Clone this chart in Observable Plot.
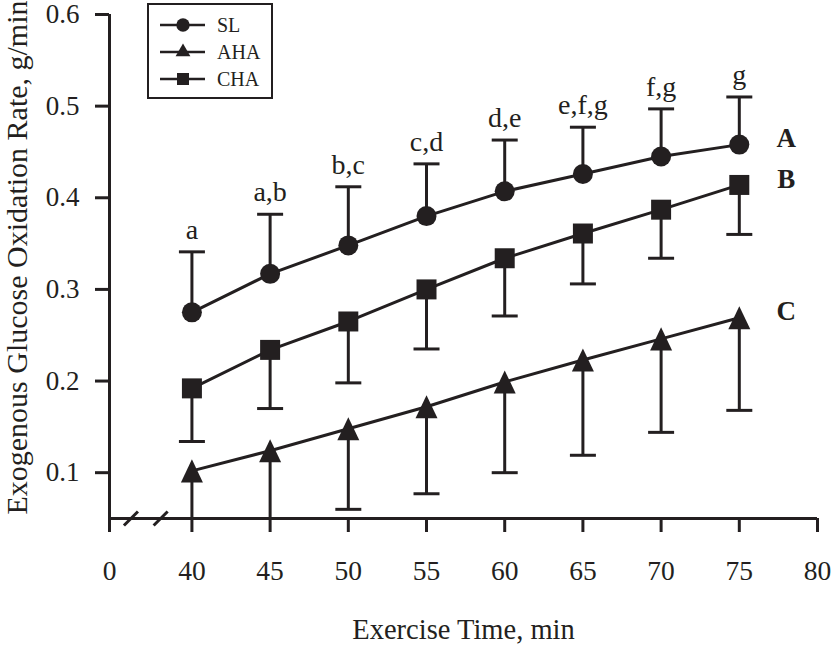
<!DOCTYPE html>
<html><head><meta charset="utf-8">
<script src="https://cdn.jsdelivr.net/npm/d3@7"></script>
<script src="https://cdn.jsdelivr.net/npm/@observablehq/plot@0.6"></script>
<style>
body{margin:0;background:#fff;}
#wrap{position:relative;width:832px;height:647px;font-family:"Liberation Serif","Times New Roman",serif;}
#legend{position:absolute;left:147px;top:3px;}
</style></head><body><div id="wrap"></div>
<script>
const times = [40,45,50,55,60,65,70,75];
const slMean = [0.275,0.317,0.348,0.380,0.407,0.426,0.445,0.458];
const slUpper = [0.341,0.382,0.412,0.437,0.463,0.477,0.497,0.510];
const chaMean = [0.192,0.234,0.265,0.300,0.334,0.361,0.387,0.414];
const chaLower = [0.134,0.170,0.198,0.235,0.271,0.306,0.334,0.360];
const ahaMean = [0.102,0.124,0.148,0.172,0.199,0.223,0.246,0.269];
const ahaLower = [0.010,0.030,0.060,0.077,0.100,0.119,0.144,0.168];
const slLetters = ["a","a,b","b,c","c,d","d,e","e,f,g","f,g","g"];
const seriesNames = ["SL","AHA","CHA"];
const groupLetters = {SL:"A", CHA:"B", AHA:"C"};
const xTickValues = [34.73,40,45,50,55,60,65,70,75,80];
const xTickLabels = ["0","40","45","50","55","60","65","70","75","80"];
const yTickValues = [0.1,0.2,0.3,0.4,0.5,0.6];
const xDomain = [34.73,80];
const yDomain = [0.05,0.6];
const breakMarks = [36.1,38.0];
const xTitle = "Exercise Time, min";
const yTitle = "Exogenous Glucose Oxidation Rate, g/min";

const ink = "#231f20";
const font = '"Liberation Serif","Times New Roman",serif';

const capSymbol = {draw(ctx,size){const h=Math.sqrt(size/Math.PI); ctx.moveTo(-h,0); ctx.lineTo(h,0);}};
const slashSymbol = {draw(ctx,size){const h=Math.sqrt(size/Math.PI); ctx.moveTo(-h,h); ctx.lineTo(h,-h);}};
const triSymbol = {draw(ctx,size){const h=Math.sqrt(size/Math.PI); ctx.moveTo(0,-h*1.05); ctx.lineTo(h,h*1.05); ctx.lineTo(-h,h*1.05); ctx.closePath();}};

const sl = times.map((t,i)=>({t, v:slMean[i], e:slUpper[i], lab:slLetters[i]}));
const cha = times.map((t,i)=>({t, v:chaMean[i], e:chaLower[i]}));
const aha = times.map((t,i)=>({t, v:ahaMean[i], e:ahaLower[i]}));
const ends = [
  {t:times[7], v:slMean[7], g:groupLetters.SL},
  {t:times[7], v:chaMean[7], g:groupLetters.CHA},
  {t:times[7], v:ahaMean[7], g:groupLetters.AHA}
];

const chart = Plot.plot({
  width: 832, height: 647,
  marginLeft: 109, marginRight: 15, marginTop: 14, marginBottom: 129,
  style: {fontFamily: font, fontSize: "27px", color: ink, background: "white", overflow: "visible"},
  x: {type: "linear", domain: xDomain, label: null},
  y: {type: "linear", domain: yDomain, label: null},
  marks: [
    Plot.axisX({ticks: xTickValues, tickFormat: (d)=>xTickLabels[xTickValues.indexOf(d)], tickSize: 14, tickPadding: 28, strokeWidth: 3, stroke: ink, fill: ink, fontSize: 27.5, label: null}),
    Plot.axisY({ticks: yTickValues, tickFormat: d3.format(".1f"), tickSize: 14, tickPadding: 16, strokeWidth: 3, stroke: ink, fill: ink, fontSize: 27, label: null}),
    Plot.ruleY([yDomain[0]], {stroke: ink, strokeWidth: 3}),
    Plot.ruleX([xDomain[0]], {stroke: ink, strokeWidth: 3}),
    Plot.dot(breakMarks, {x: d=>d, y: ()=>yDomain[0], symbol: slashSymbol, r: 7, stroke: ink, fill: "none", strokeWidth: 3}),
    // error bars
    Plot.ruleX(sl, {x:"t", y1:"v", y2:"e", stroke: ink, strokeWidth: 3}),
    Plot.ruleX(cha, {x:"t", y1:"v", y2:"e", stroke: ink, strokeWidth: 3}),
    Plot.ruleX(aha, {x:"t", y1:"v", y2:"e", stroke: ink, strokeWidth: 3, clip: true}),
    Plot.dot(sl, {x:"t", y:"e", symbol: capSymbol, r: 13, stroke: ink, fill: "none", strokeWidth: 3}),
    Plot.dot(cha, {x:"t", y:"e", symbol: capSymbol, r: 13, stroke: ink, fill: "none", strokeWidth: 3}),
    Plot.dot(aha, {x:"t", y:"e", symbol: capSymbol, r: 13, stroke: ink, fill: "none", strokeWidth: 3, clip: true}),
    // lines
    Plot.line(sl, {x:"t", y:"v", stroke: ink, strokeWidth: 3}),
    Plot.line(cha, {x:"t", y:"v", stroke: ink, strokeWidth: 3}),
    Plot.line(aha, {x:"t", y:"v", stroke: ink, strokeWidth: 3}),
    // markers
    Plot.dot(sl, {x:"t", y:"v", symbol: "circle", r: 10, fill: ink, stroke: "none"}),
    Plot.dot(cha, {x:"t", y:"v", symbol: "square", r: 11.28, fill: ink, stroke: "none"}),
    Plot.dot(aha, {x:"t", y:"v", symbol: triSymbol, r: 11, fill: ink, stroke: "none"}),
    // annotations
    Plot.text(sl, {x:"t", y:"e", text:"lab", lineAnchor:"bottom", dy:-13, fontSize: 28, fill: ink}),
    Plot.text(ends, {x:"t", y:"v", text:"g", dx: 47, dy: -6, fontSize: 27, fontWeight: "bold", fill: ink}),
    // axis titles
    Plot.text([yTitle], {text: d=>d, frameAnchor: "left", textAnchor: "middle", lineAnchor: "middle", rotate: -90, dx: -92, dy: -9, fontSize: 30, fill: ink}),
    Plot.text([xTitle], {text: d=>d, frameAnchor: "bottom", lineAnchor: "bottom", dy: 120, fontSize: 28.5, fill: ink})
  ]
});
const wrap = document.getElementById("wrap");
wrap.appendChild(chart);

// legend overlay
const legendSymbols = {SL: d3.symbolCircle, AHA: d3.symbolTriangle, CHA: d3.symbolSquare};
const legendSizes = {SL: 140, AHA: 95, CHA: 144};
const lw = 126, lh = 96;
const lg = d3.create("svg").attr("id","legend").attr("width", lw).attr("height", lh)
  .style("font-family", font);
lg.append("rect").attr("x",1).attr("y",1).attr("width",lw-2).attr("height",lh-2)
  .attr("fill","white").attr("stroke",ink).attr("stroke-width",2);
seriesNames.forEach((name,i)=>{
  const g = lg.append("g").attr("transform",`translate(0,${22+27*i})`);
  g.append("line").attr("x1",13).attr("x2",58).attr("stroke",ink).attr("stroke-width",2.5);
  g.append("path").attr("transform","translate(36,0)")
    .attr("d", d3.symbol(legendSymbols[name], legendSizes[name])()).attr("fill",ink);
  g.append("text").attr("x",70).attr("dy","0.35em").attr("font-size",20).attr("fill",ink).text(name);
});
wrap.appendChild(lg.node());
</script>
</body></html>
